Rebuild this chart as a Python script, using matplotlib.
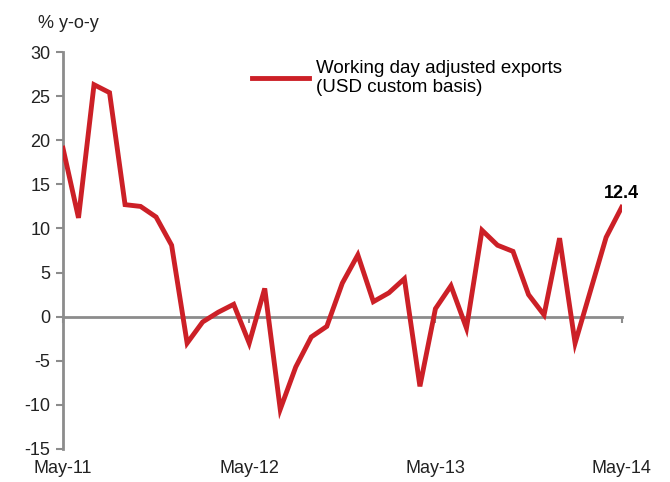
import matplotlib
matplotlib.use("Agg")
from matplotlib import pyplot as plt

# 数据: 工作日调整后出口同比 (May-11 .. May-14)
values = [19.1, 11.2, 26.3, 25.4, 12.7, 12.5, 11.3, 8.1, -3.0, -0.6,
          0.5, 1.4, -3.0, 3.2, -10.5, -5.7, -2.3, -1.1, 3.8, 7.0,
          1.7, 2.7, 4.3, -7.9, 0.9, 3.5, -1.3, 9.8, 8.1, 7.4,
          2.5, 0.2, 8.9, -3.0, 3.0, 9.0, 12.4]
tick_pos = [0, 12, 24, 36]
tick_labels = ["May-11", "May-12", "May-13", "May-14"]
y_ticks = list(range(-15, 31, 5))
series_name = "Working day adjusted exports\n(USD custom basis)"
last_label = "12.4"

plt.rcParams['font.family'] = ['Liberation Sans', 'DejaVu Sans']

fig = plt.figure(figsize=(6.7, 4.82), dpi=100)
ax = fig.add_axes([0.094, 0.0685, 0.835, 0.8235])

x = list(range(len(values)))
ax.plot(x, values, color="#cc2027", lw=3.5, solid_joinstyle="miter",
        label=series_name, zorder=3)

ax.set_ylim(-15, 30)
ax.set_xlim(0, 36.05)
ax.set_yticks(y_ticks)
ax.set_yticklabels([str(v) for v in y_ticks], fontsize=13, color="#222222")

grey = "#8c8c8c"
for s in ["top", "right"]:
    ax.spines[s].set_visible(False)
ax.spines["left"].set_color(grey)
ax.spines["left"].set_linewidth(2)
ax.spines["bottom"].set_position(("data", 0))
ax.spines["bottom"].set_color(grey)
ax.spines["bottom"].set_linewidth(2)
ax.tick_params(axis="y", direction="out", length=5, width=1.5, color=grey, pad=4)
ax.set_xticks(tick_pos)
ax.set_xticklabels([])
ax.tick_params(axis="x", direction="out", length=4, width=1.5, color=grey)

# x轴标签放在底部
for p, t in zip(tick_pos, tick_labels):
    ax.text(p, -0.028, t, transform=ax.get_xaxis_transform(),
            ha="center", va="top", fontsize=13, color="#222222")

ax.text(-0.045, 1.05, "% y-o-y", transform=ax.transAxes, fontsize=13,
        color="#222222", ha="left", va="bottom")

ax.annotate(last_label, (x[-1], values[-1]), xytext=(0, 4),
            textcoords="offset points", ha="center", va="bottom",
            fontsize=13, fontweight="bold")

leg = ax.legend(loc="upper left", bbox_to_anchor=(0.325, 1.0), frameon=False,
                fontsize=13.5, handlelength=3.0, handletextpad=0.4,
                borderaxespad=0)

fig.savefig("out.png", dpi=100)
